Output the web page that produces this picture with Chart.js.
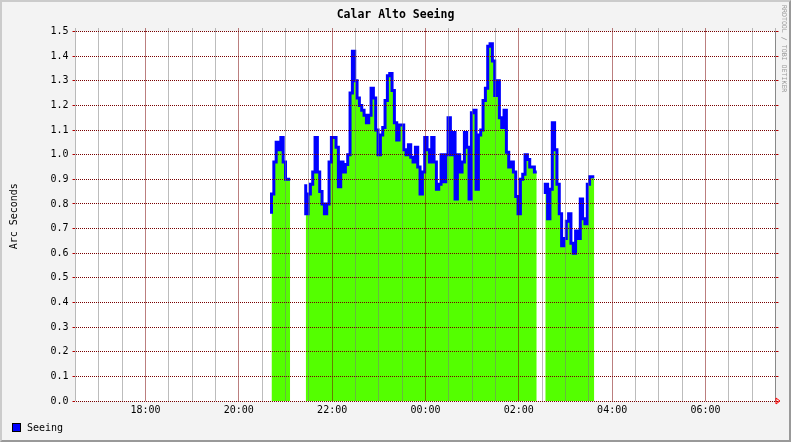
<!DOCTYPE html>
<html>
<head>
<meta charset="utf-8">
<title>Calar Alto Seeing</title>
<script src="https://cdn.jsdelivr.net/npm/chart.js@4.4.1/dist/chart.umd.min.js"></script>
<style>
  html, body { margin: 0; padding: 0; background: #f3f3f3; }
  #frame { position: relative; width: 791px; height: 442px; background: #f3f3f3; overflow: hidden;
           font-family: "DejaVu Sans Mono", monospace; color: #000; }
  #chart { position: absolute; left: 0; top: 0; }
  #edge { position: absolute; left: 0; top: 0; width: 791px; height: 442px; box-sizing: border-box;
          border: 2px solid; border-color: #cbcbcb #999 #999 #cbcbcb; pointer-events: none; }
  #title { position: absolute; left: 0; top: 7px; width: 791px; text-align: center;
           font-weight: bold; font-size: 11.5px; line-height: 15px; }
  #stamp { position: absolute; left: 780px; top: 5px; writing-mode: vertical-rl;
           font-size: 6.6px; color: #999; letter-spacing: 0; }
  #legend { position: absolute; left: 12px; top: 422px; font-size: 10px; line-height: 12px; }
  #legend .box { display: inline-block; width: 7px; height: 7px; background: #0000ff;
                 border: 1px solid #000; vertical-align: -1px; margin-right: 6px; }
</style>
</head>
<body>
<div id="frame">
  <canvas id="chart" width="791" height="442"></canvas>
  <div id="title">Calar Alto Seeing</div>
  <div id="stamp">RRDTOOL / TOBI OETIKER</div>
  <div id="legend"><span class="box"></span>Seeing</div>
  <div id="edge"></div>
</div>
<script>
// Seeing samples (arc seconds), 3 minute spacing, three observing runs.
const stepMinutes = 3;
const segmentStarts = ['20:42', '21:26', '02:34'];   // last one is after midnight
const seg1Values = [0.76, 0.84, 0.97, 1.05, 1.02, 1.07, 0.97, 0.90, 0.90];
const seg2Values = [
  0.88, 0.76, 0.84, 0.88, 0.93, 1.07, 0.93, 0.85, 0.80, 0.76,
  0.80, 0.97, 1.07, 1.07, 1.03, 0.87, 0.97, 0.93, 0.96, 1.00,
  1.25, 1.42, 1.30, 1.23, 1.20, 1.18, 1.16, 1.13, 1.16, 1.27,
  1.23, 1.10, 1.00, 1.08, 1.11, 1.22, 1.32, 1.33, 1.26, 1.13,
  1.06, 1.12, 1.12, 1.02, 1.00, 1.04, 0.99, 0.97, 1.03, 0.95,
  0.84, 0.93, 1.07, 1.02, 0.97, 1.07, 0.97, 0.86, 0.88, 1.00,
  0.89, 1.00, 1.15, 1.00, 1.09, 0.82, 1.00, 0.93, 0.97, 1.09,
  1.03, 0.82, 1.17, 1.18, 0.86, 1.08, 1.10, 1.22, 1.27, 1.44,
  1.45, 1.38, 1.24, 1.30, 1.15, 1.11, 1.18, 1.01, 0.95, 0.97,
  0.93, 0.83, 0.76, 0.90, 0.92, 1.00, 0.98, 0.95, 0.95, 0.93
];
const seg3Values = [
  0.84, 0.88, 0.74, 0.86, 1.13, 1.02, 0.88, 0.76, 0.63, 0.66, 0.73,
  0.76, 0.64, 0.60, 0.69, 0.66, 0.82, 0.74, 0.72, 0.88, 0.91, 0.91
];

// axis: hours counted from midnight of the first evening
const xMin = 16.5, xMax = 31.5;
const yMin = 0, yMax = 1.5;

const MGRID = 'rgb(120,0,0)';
const GRID = '#7a7a7a';
const DOTS = [1, 1];

function toHours(hhmm, afterMidnight) {
  const [h, m] = hhmm.split(':').map(Number);
  return h + m / 60 + (afterMidnight ? 24 : 0);
}

function buildPoints() {
  const segs = [seg1Values, seg2Values, seg3Values];
  const pts = [];
  segs.forEach((vals, s) => {
    const t0 = toHours(segmentStarts[s], s === 2);
    if (s > 0) pts.push({ x: t0 - 0.01, y: null });
    vals.forEach((v, i) => pts.push({ x: t0 + i * stepMinutes / 60, y: v }));
  });
  return pts;
}

const isMajorHour = (v) => Math.abs(v % 2) < 1e-6;
const hourColor = (c) => (c.tick && isMajorHour(c.tick.value)) ? MGRID : GRID;

const decorations = {
  id: 'decorations',
  beforeDraw(chart) {
    const { ctx, chartArea: a } = chart;
    ctx.save();
    ctx.fillStyle = '#ffffff';
    ctx.fillRect(a.left, a.top, a.right - a.left, a.bottom - a.top);
    ctx.restore();
  },
  afterDraw(chart) {
    const { ctx, chartArea: a } = chart;
    // red arrow at the end of the time axis
    ctx.save();
    ctx.strokeStyle = '#ff0000';
    ctx.lineWidth = 1;
    ctx.beginPath();
    ctx.moveTo(a.right + 0.5, a.bottom - 3);
    ctx.lineTo(a.right + 4.5, a.bottom);
    ctx.lineTo(a.right + 0.5, a.bottom + 3);
    ctx.closePath();
    ctx.stroke();
    ctx.restore();
  }
};

const tickFont = { family: '"DejaVu Sans Mono", monospace', size: 10 };

new Chart(document.getElementById('chart'), {
  type: 'line',
  data: {
    datasets: [{
      label: 'Seeing',
      data: buildPoints(),
      parsing: false,
      stepped: 'after',
      spanGaps: false,
      borderColor: '#0000ff',
      borderWidth: 3,
      backgroundColor: '#54ff00',
      fill: 'origin',
      pointRadius: 0,
      tension: 0,
    }],
  },
  options: {
    responsive: false,
    animation: false,
    events: [],
    layout: { padding: { left: 0, top: 28.5, right: 12.5, bottom: 0 } },
    plugins: { legend: { display: false }, title: { display: false }, tooltip: { enabled: false } },
    scales: {
      x: {
        type: 'linear',
        min: xMin, max: xMax,
        afterFit: (s) => { s.height = 41; },
        ticks: {
          stepSize: 0.5, autoSkip: false, maxRotation: 0, padding: 3,
          color: '#000', font: tickFont,
          callback: (v) => isMajorHour(v) ? String(v % 24).padStart(2, '0') + ':00' : '',
        },
        grid: { z: 1, drawTicks: false, color: hourColor },
        border: { color: '#333', width: 1, dash: DOTS },
      },
      xTop: {
        type: 'linear',
        position: 'top',
        min: xMin, max: xMax,
        afterFit: (s) => { s.height = 3; },
        ticks: { stepSize: 0.5, autoSkip: false, display: false },
        grid: { drawOnChartArea: false, tickLength: 3, tickColor: hourColor, tickBorderDash: DOTS },
        border: { display: false },
      },
      y: {
        min: yMin, max: yMax,
        afterFit: (s) => { s.width = 75.5; },
        title: {
          display: true, text: 'Arc Seconds', color: '#000',
          font: tickFont, padding: { top: 8, bottom: 0 },
        },
        ticks: {
          stepSize: 0.1, padding: 4, color: '#000', font: tickFont,
          callback: (v) => v.toFixed(1),
        },
        grid: { z: 1, color: MGRID, tickLength: 3, tickColor: '#b00000', tickBorderDash: [] },
        border: { color: '#999', width: 1, dash: DOTS },
      },
      y2: {
        position: 'right',
        min: yMin, max: yMax,
        afterFit: (s) => { s.width = 3; },
        ticks: { stepSize: 0.1, display: false },
        grid: { drawOnChartArea: false, tickLength: 3, tickColor: '#b00000' },
        border: { color: '#999', width: 1 },
      },
    },
  },
  plugins: [decorations],
});
</script>
</body>
</html>
